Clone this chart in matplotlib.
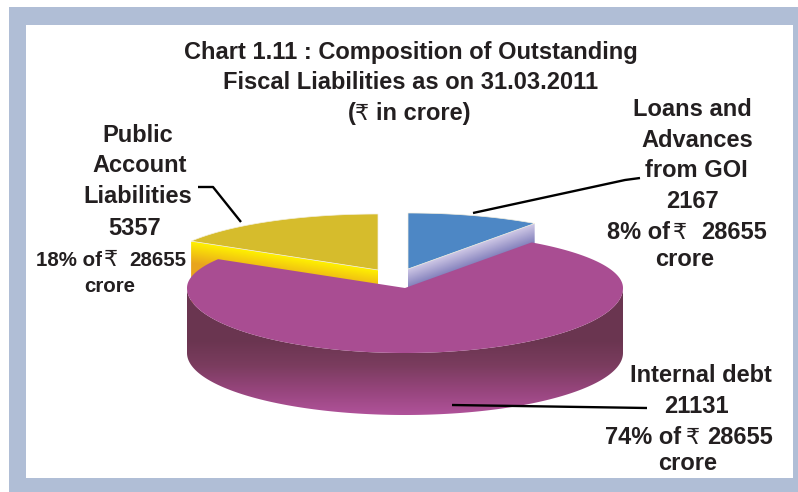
import matplotlib

matplotlib.use("Agg")

import matplotlib.pyplot as plt
import numpy as np
from matplotlib.colors import LinearSegmentedColormap
from matplotlib.patches import Polygon, Rectangle

WIDTH, HEIGHT = 798, 492
FONT = ["Liberation Sans", "DejaVu Sans"]
TEXT_COLOR = "#231f20"

# slice data, clockwise from 12 o'clock
SLICE_NAMES = ["Loans and Advances from GOI", "Internal debt", "Public Account Liabilities"]
SLICE_VALUES = [2167, 21131, 5357]
SLICE_PERCENT = [8, 74, 18]
TOTAL = 28655
# the 3D view in the original widens the small back slices unevenly
VIEW_STRETCH = [1.305, 1.0, 0.877]

TITLE_LINES = [
    "Chart 1.11 : Composition of Outstanding",
    "Fiscal Liabilities as on 31.03.2011",
]

# pie geometry in pixels
RX = 218
RY_BACK = 56
RY_FRONT = 65
WALL_RY = 62
WALL_DROP = 65
CUT_DEPTH = 62
CENTERS = [(408, 269), (405, 288), (378, 270)]
TOP_COLORS = ["#4d87c5", "#a94d92", "#d6bc2c"]


def slice_angles():
    sweeps = np.array(SLICE_VALUES) / TOTAL * 360 * np.array(VIEW_STRETCH)
    sweeps = sweeps / sweeps.sum() * 360
    edges = np.concatenate([[0], np.cumsum(sweeps)])
    return edges[:-1], edges[1:]


def rim(center, start, end, count=200, ry_front=RY_FRONT):
    theta = np.radians(np.linspace(start, end, count))
    ry = np.where(np.cos(theta) > 0, RY_BACK, ry_front)
    return center[0] + RX * np.sin(theta), center[1] - ry * np.cos(theta)


def gradient_clip(ax, outline, colors, value_fn):
    xs = np.arange(0, WIDTH) + 0.5
    ys = np.arange(0, HEIGHT) + 0.5
    grid_x, grid_y = np.meshgrid(xs, ys)
    cmap = LinearSegmentedColormap.from_list("wall", colors)
    image = ax.imshow(
        value_fn(grid_x, grid_y),
        cmap=cmap,
        vmin=0,
        vmax=1,
        extent=(0, WIDTH, HEIGHT, 0),
        aspect="auto",
        interpolation="bilinear",
    )
    patch = Polygon(outline, closed=True, transform=ax.transData, facecolor="none", edgecolor="none")
    ax.add_patch(patch)
    image.set_clip_path(patch)
    return image


def draw_cut_wall(ax, center, angle, colors):
    x, y = rim(center, angle, angle, 1)
    x, y = x[0], y[0]
    outline = [center, (x, y), (x, y + CUT_DEPTH), (center[0], center[1] + CUT_DEPTH)]
    slope = (y - center[1]) / (x - center[0])

    def depth_value(grid_x, grid_y):
        return np.clip((grid_y - (center[1] + slope * (grid_x - center[0]))) / 22, 0, 1)

    gradient_clip(ax, outline, colors, depth_value)


def draw_pie(ax):
    starts, ends = slice_angles()

    # back slices first, the big front slice covers their walls
    draw_cut_wall(ax, CENTERS[0], ends[0], ["#cfc8e6", "#7573b4"])
    draw_cut_wall(ax, CENTERS[2], starts[2], ["#fff200", "#e8a41e"])
    for index in [0, 2]:
        x, y = rim(CENTERS[index], starts[index], ends[index])
        outline = np.column_stack([np.append(x, CENTERS[index][0]), np.append(y, CENTERS[index][1])])
        ax.add_patch(Polygon(outline, closed=True, facecolor=TOP_COLORS[index], edgecolor="#f4f0e0", linewidth=0.5))

    # outer wall of the big slice
    x_top, y_top = rim(CENTERS[1], 90, 270)
    x_low, y_low = rim(CENTERS[1], 90, 270, ry_front=WALL_RY)
    outline = np.column_stack([np.concatenate([x_top, x_low[::-1]]), np.concatenate([y_top, y_low[::-1] + WALL_DROP])])

    def wall_value(_, grid_y):
        return np.clip((grid_y - 340) / 75, 0, 1)

    gradient_clip(ax, outline, ["#6a3550", "#7a3c5e", "#96457c", "#b0529a"], wall_value)

    x, y = rim(CENTERS[1], starts[1], ends[1], 400)
    outline = np.column_stack([np.append(x, CENTERS[1][0]), np.append(y, CENTERS[1][1])])
    ax.add_patch(Polygon(outline, closed=True, facecolor=TOP_COLORS[1], edgecolor="none"))


def draw_frame(ax):
    band = "#b0bed6"
    ax.add_patch(Rectangle((9, 7), 789, 18, facecolor=band, edgecolor="none"))
    ax.add_patch(Rectangle((9, 478), 789, 14, facecolor=band, edgecolor="none"))
    ax.add_patch(Rectangle((9, 7), 17, 485, facecolor=band, edgecolor="none"))
    ax.add_patch(Rectangle((793, 7), 5, 485, facecolor=band, edgecolor="none"))


def bold_text(ax, x, y, text, size=17.0, ha="center"):
    ax.text(x, y, text, ha=ha, va="baseline", fontsize=size, fontweight="bold", color=TEXT_COLOR, family=FONT)


def rupee_line(ax, y, before, before_right, rupee_x, after, after_left, size=17.0):
    # the rupee sign is set lighter than the rest of the line in the original
    bold_text(ax, before_right, y, before, size=size, ha="right")
    ax.text(rupee_x, y, "₹", ha="center", va="baseline", fontsize=16, color=TEXT_COLOR, family="DejaVu Sans")
    bold_text(ax, after_left, y, after, size=size, ha="left")


def draw_labels(ax):
    bold_text(ax, 411, 59, TITLE_LINES[0])
    bold_text(ax, 411, 89, TITLE_LINES[1])
    rupee_line(ax, 120, "(", 356, 362, "in crore)", 376)

    for text, x, y in [("Loans and", 692, 116), ("Advances", 697, 147), ("from GOI", 696, 177)]:
        bold_text(ax, x, y, text)
    bold_text(ax, 692, 208, str(SLICE_VALUES[0]))
    rupee_line(ax, 239, f"{SLICE_PERCENT[0]}% of", 670, 680, str(TOTAL), 701)
    bold_text(ax, 685, 266, "crore")

    for text, x, y in [("Public", 138, 142), ("Account", 140, 172), ("Liabilities", 138, 203)]:
        bold_text(ax, x, y, text)
    bold_text(ax, 135, 235, str(SLICE_VALUES[2]))
    rupee_line(ax, 266, f"{SLICE_PERCENT[2]}% of", 102, 111, str(TOTAL), 129, size=14.8)
    bold_text(ax, 110, 292, "crore", size=14.8)

    bold_text(ax, 701, 382, "Internal debt")
    bold_text(ax, 696, 413, str(SLICE_VALUES[1]))
    rupee_line(ax, 444, f"{SLICE_PERCENT[1]}% of", 681, 693, str(TOTAL), 707)
    bold_text(ax, 688, 470, "crore")

    leaders = [
        ([473, 625, 640], [213, 180, 178]),
        ([241, 213, 198], [222, 187, 187]),
        ([452, 647], [405, 408]),
    ]
    for xs, ys in leaders:
        ax.plot(xs, ys, color="black", linewidth=1.7, solid_capstyle="butt")


def main() -> None:
    fig = plt.figure(figsize=(WIDTH / 100, HEIGHT / 100), dpi=100)
    ax = fig.add_axes([0, 0, 1, 1])

    draw_frame(ax)
    draw_pie(ax)
    draw_labels(ax)

    ax.set_xlim(0, WIDTH)
    ax.set_ylim(HEIGHT, 0)
    ax.axis("off")
    fig.savefig("out.png", dpi=100)


if __name__ == "__main__":
    main()
